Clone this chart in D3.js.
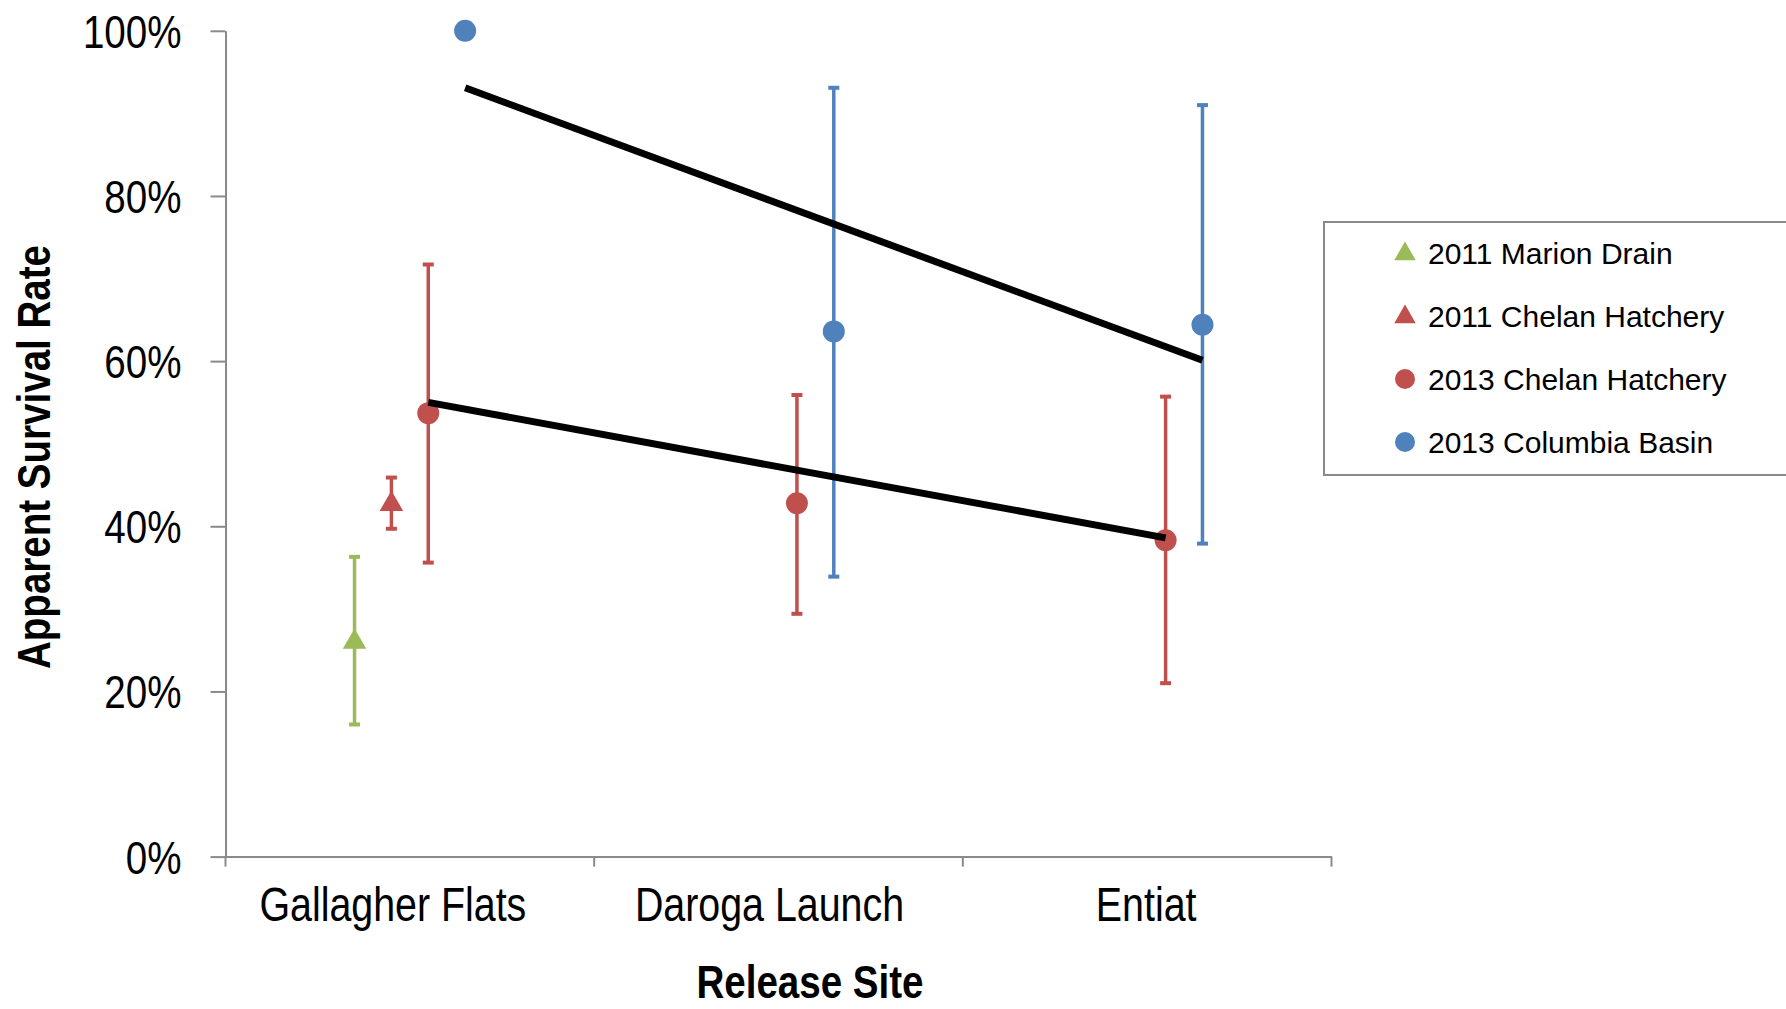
<!DOCTYPE html>
<html>
<head>
<meta charset="utf-8">
<script src="https://cdn.jsdelivr.net/npm/d3@7"></script>
<style>
  html, body { margin: 0; padding: 0; background: #fff; }
  svg { display: block; }
  .narrow { font-family: "Liberation Sans Narrow", "Arial Narrow", "Liberation Sans", Arial, sans-serif; }
  .reg { font-family: "Liberation Sans", Arial, sans-serif; }
</style>
</head>
<body>
<svg id="chart" width="1786" height="1009"></svg>
<script>
// ---------- data ----------
const categories = ["Gallagher Flats", "Daroga Launch", "Entiat"];
const seriesNames = ["2011 Marion Drain", "2011 Chelan Hatchery", "2013 Chelan Hatchery", "2013 Columbia Basin"];
const seriesColors = ["#9BBB59", "#C0504D", "#C0504D", "#4F81BD"];
const seriesShapes = ["triangle", "triangle", "circle", "circle"];

const marionDrain2011 = [0.261, null, null];
const marionDrain2011Low = [0.160, null, null];
const marionDrain2011High = [0.363, null, null];

const chelan2011 = [0.428, null, null];
const chelan2011Low = [0.397, null, null];
const chelan2011High = [0.459, null, null];

const chelan2013 = [0.537, 0.428, 0.383];
const chelan2013Low = [0.356, 0.294, 0.210];
const chelan2013High = [0.717, 0.559, 0.557];

const columbia2013 = [1.000, 0.636, 0.644];
const columbia2013Low = [null, 0.339, 0.379];
const columbia2013High = [null, 0.931, 0.910];

// trend lines (start at Gallagher Flats, end at Entiat)
const trendChelan2013 = [0.550, 0.386];
const trendColumbia2013 = [0.931, 0.601];

const yTicks = [0, 0.2, 0.4, 0.6, 0.8, 1.0];

const seriesValues = [marionDrain2011, chelan2011, chelan2013, columbia2013];
const seriesLow = [marionDrain2011Low, chelan2011Low, chelan2013Low, columbia2013Low];
const seriesHigh = [marionDrain2011High, chelan2011High, chelan2013High, columbia2013High];

// ---------- layout ----------
const svg = d3.select("#chart");
const plotLeft = 225.5, plotRight = 1331.5, plotTop = 30.8, plotBottom = 856.6;
const axisColor = "#8a8a8a";

// emulate a narrow (condensed) face when none is installed
function condense(sel, f) {
  sel.each(function () {
    const w = this.getComputedTextLength();
    d3.select(this).attr("textLength", w * f).attr("lengthAdjust", "spacingAndGlyphs");
  });
}

const x = d3.scaleBand().domain(categories).range([plotLeft, plotRight]).paddingInner(0).paddingOuter(0);
const sub = d3.scaleBand().domain(seriesNames).range([-0.2 * x.bandwidth(), 0.2 * x.bandwidth()]);
const y = d3.scaleLinear().domain([0, 1]).range([plotBottom, plotTop]);

const px = (cat, s) => x(cat) + x.bandwidth() / 2 + sub(s) + sub.bandwidth() / 2;

// Y axis
const yAxis = svg.append("g").attr("transform", `translate(${plotLeft},0)`)
  .call(d3.axisLeft(y).tickValues(yTicks).tickFormat(d3.format(".0%")).tickSizeInner(15).tickSizeOuter(0).tickPadding(29));
yAxis.select(".domain").attr("stroke", axisColor).attr("stroke-width", 2);
yAxis.selectAll(".tick line").attr("stroke", axisColor).attr("stroke-width", 2);
yAxis.selectAll(".tick text").attr("class", "narrow").attr("font-size", 47).attr("fill", "#000").attr("dy", "0.35em")
  .call(condense, 0.82);

// X axis (labels at band centres, ticks at band boundaries)
const labelShift = [-17, -9, -1];
const xAxis = svg.append("g").attr("transform", `translate(0,${plotBottom})`)
  .call(d3.axisBottom(x).tickSize(0).tickPadding(30));
xAxis.select(".domain").attr("stroke", axisColor).attr("stroke-width", 2);
xAxis.selectAll(".tick text").attr("class", "narrow").attr("font-size", 48).attr("fill", "#000")
  .attr("dx", (d, i) => labelShift[i])
  .call(condense, 0.82);
const boundaries = categories.map(c => x(c)).concat([x.range()[1]]);
xAxis.selectAll(".bound").data(boundaries).enter().append("line")
  .attr("x1", d => d).attr("x2", d => d).attr("y1", 0).attr("y2", 10)
  .attr("stroke", axisColor).attr("stroke-width", 2);

// Axis titles
svg.append("text").attr("class", "narrow").attr("x", 810).attr("y", 998)
  .attr("text-anchor", "middle").attr("font-size", 47).attr("font-weight", "bold").text("Release Site")
  .call(condense, 0.82);
svg.append("text").attr("class", "narrow")
  .attr("transform", "translate(50,457) rotate(-90)")
  .attr("text-anchor", "middle").attr("font-size", 47).attr("font-weight", "bold").text("Apparent Survival Rate")
  .call(condense, 0.82);

// error bars + markers
const capW = 11;
const triSymbol = d3.symbol().type(d3.symbolTriangle).size(240);
seriesNames.forEach((s, i) => {
  const g = svg.append("g");
  const pts = categories.map((c, j) => ({ c, v: seriesValues[i][j], lo: seriesLow[i][j], hi: seriesHigh[i][j] }))
    .filter(d => d.v !== null);
  const eb = pts.filter(d => d.lo !== null && d.hi !== null);
  g.selectAll(".eb").data(eb).enter().append("line")
    .attr("x1", d => px(d.c, s)).attr("x2", d => px(d.c, s))
    .attr("y1", d => y(d.lo)).attr("y2", d => y(d.hi))
    .attr("stroke", seriesColors[i]).attr("stroke-width", 3.5);
  ["lo", "hi"].forEach(k => {
    g.selectAll(".cap" + k).data(eb).enter().append("line")
      .attr("x1", d => px(d.c, s) - capW / 2).attr("x2", d => px(d.c, s) + capW / 2)
      .attr("y1", d => y(d[k])).attr("y2", d => y(d[k]))
      .attr("stroke", seriesColors[i]).attr("stroke-width", 4);
  });
  if (seriesShapes[i] === "circle") {
    g.selectAll(".m").data(pts).enter().append("circle")
      .attr("cx", d => px(d.c, s)).attr("cy", d => y(d.v)).attr("r", 11)
      .attr("fill", seriesColors[i]);
  } else {
    g.selectAll(".m").data(pts).enter().append("path")
      .attr("d", triSymbol)
      .attr("transform", d => `translate(${px(d.c, s)},${y(d.v) + 1})`)
      .attr("fill", seriesColors[i]);
  }
});

// trend lines
const trends = [
  { s: "2013 Chelan Hatchery", v: trendChelan2013 },
  { s: "2013 Columbia Basin", v: trendColumbia2013 }
];
const line = d3.line().x(d => d[0]).y(d => d[1]);
trends.forEach(t => {
  const pts = [[px(categories[0], t.s), y(t.v[0])], [px(categories[categories.length - 1], t.s), y(t.v[1])]];
  svg.append("path").attr("d", line(pts)).attr("stroke", "#000").attr("stroke-width", 7).attr("fill", "none");
});

// legend
const lg = svg.append("g");
lg.append("rect").attr("x", 1324).attr("y", 222).attr("width", 480).attr("height", 253)
  .attr("fill", "#fff").attr("stroke", axisColor).attr("stroke-width", 2);
const legY = d3.scalePoint().domain(seriesNames).range([253, 442]);
seriesNames.forEach((s, i) => {
  const cy = legY(s);
  if (seriesShapes[i] === "circle") {
    lg.append("circle").attr("cx", 1405).attr("cy", cy).attr("r", 10).attr("fill", seriesColors[i]);
  } else {
    lg.append("path").attr("d", d3.symbol().type(d3.symbolTriangle).size(200))
      .attr("transform", `translate(1405,${cy + 1})`).attr("fill", seriesColors[i]);
  }
  lg.append("text").attr("class", "reg").attr("x", 1428).attr("y", cy).attr("dy", "0.36em")
    .attr("font-size", 30).attr("fill", "#000").text(s);
});
</script>
</body>
</html>
